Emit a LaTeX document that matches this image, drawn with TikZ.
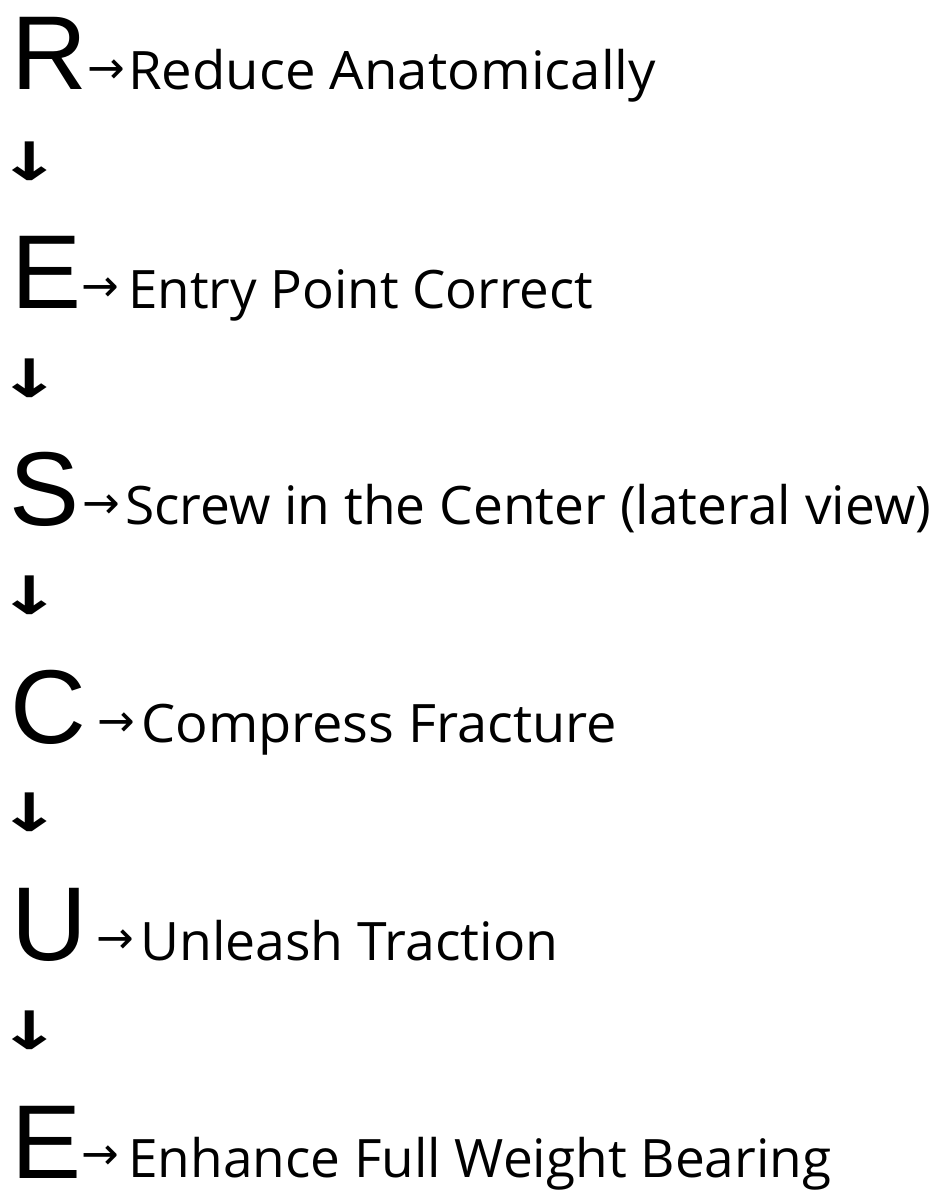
\documentclass[tikz,border=0pt]{standalone}
\usepackage{fontspec}
\setmainfont{Liberation Sans}
\newfontfamily\lblfont{Open Sans}
\newfontfamily\arrfont{DejaVu Sans}
\usepackage{graphicx}
\newsavebox\fitbox
\newcommand\fitw[2]{\sbox\fitbox{#2}\scalebox{\fpeval{#1/\the\wd\fitbox}}[1]{\usebox\fitbox}}
\tikzset{
  big/.style={font=\fontsize{105}{105}\selectfont, anchor=base west, inner sep=0pt},
  lbl/.style={font=\lblfont\fontsize{53}{53}\selectfont, anchor=base west, inner sep=0pt},
  rarr/.style={font=\arrfont\fontsize{45}{45}\selectfont, inner sep=0pt},
  darr/.style={font=\arrfont\bfseries\fontsize{53}{53}\selectfont, inner sep=0pt}
}
\begin{document}
\begin{tikzpicture}[x=1pt,y=-1pt]
\useasboundingbox[fill=white] (0,0) rectangle (936,1196);
% row 1
\node[big] (l1) at (11,90) {R};
\node[rarr] (a1) at (106,72) {→};
\node[lbl] (t1) at (128,90) {\fitw{528pt}{Reduce Anatomically}};
% row 2
\node[big] (l2) at (11,308) {E};
\node[rarr] (a2) at (100,290) {→};
\node[lbl] (t2) at (128,308) {\fitw{465pt}{Entry Point Correct}};
% row 3
\node[big] (l3) at (9,525) {S};
\node[rarr] (a3) at (101,507) {→};
\node[lbl] (t3) at (125,524) {\fitw{806pt}{Screw in the Center (lateral view)}};
% row 4
\node[big] (l4) at (10,743) {C};
\node[rarr] (a4) at (116,725) {→};
\node[lbl] (t4) at (141,742) {\fitw{476pt}{Compress Fracture}};
% row 5
\node[big] (l5) at (11,960) {U};
\node[rarr] (a5) at (115,942) {→};
\node[lbl] (t5) at (140,960) {\fitw{418pt}{Unleash Traction}};
% row 6
\node[big] (l6) at (11,1178) {E};
\node[rarr] (a6) at (100,1158) {→};
\node[lbl] (t6) at (128,1177) {\fitw{703pt}{Enhance Full Weight Bearing}};
% down arrows
\node[darr] (d1) at (30,161) {\scalebox{1.45}[1]{↓}};
\node[darr] (d2) at (30,378) {\scalebox{1.45}[1]{↓}};
\node[darr] (d3) at (30,595) {\scalebox{1.45}[1]{↓}};
\node[darr] (d4) at (30,812) {\scalebox{1.45}[1]{↓}};
\node[darr] (d5) at (30,1030) {\scalebox{1.45}[1]{↓}};
\end{tikzpicture}
\end{document}
